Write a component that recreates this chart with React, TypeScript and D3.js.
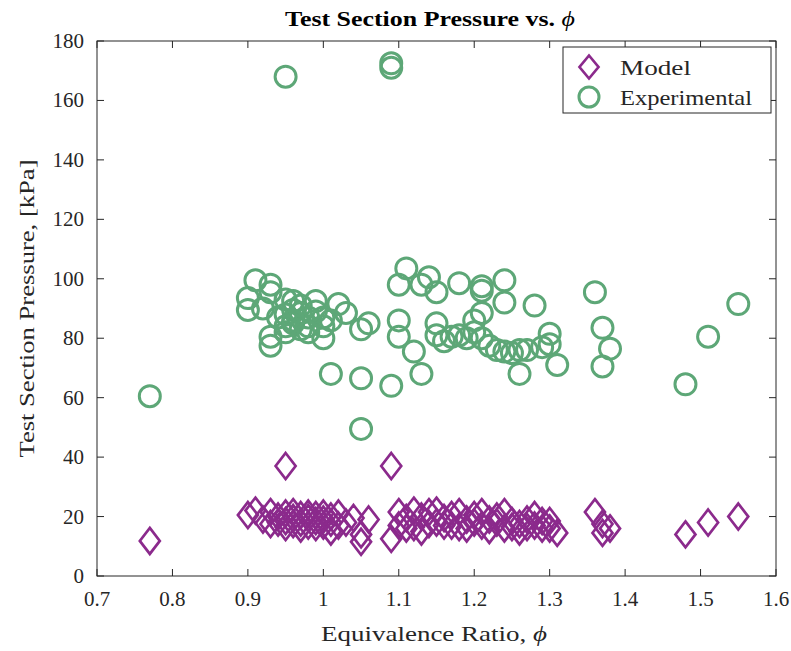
import React from "react";
import * as d3 from "d3";

const xTicks = [0.7, 0.8, 0.9, 1.0, 1.1, 1.2, 1.3, 1.4, 1.5, 1.6];
const yTicks = [0, 20, 40, 60, 80, 100, 120, 140, 160, 180];

const expPhi = [0.77,0.95,1.09,1.09,0.90,0.90,0.91,0.93,0.93,0.92,0.93,0.93,0.95,0.96,0.99,1.02,1.03,1.00,0.95,0.97,0.98,0.94,0.96,0.97,1.00,1.01,0.98,0.96,0.95,0.97,0.99,1.00,0.96,0.98,0.95,1.05,1.06,1.01,1.05,1.05,1.09,1.10,1.11,1.10,1.10,1.12,1.13,1.13,1.14,1.15,1.15,1.15,1.16,1.17,1.18,1.18,1.19,1.20,1.21,1.21,1.21,1.20,1.21,1.22,1.23,1.24,1.24,1.24,1.25,1.26,1.26,1.27,1.28,1.29,1.30,1.30,1.31,1.36,1.37,1.37,1.38,1.48,1.51,1.55];
const expP = [60.5,168,171,172.5,93.5,89.5,99.5,98,95.5,90,80.5,77.5,93,92.5,92.5,91.5,88.5,80,82,83,87,87,89.5,88.5,87,86,84,85,88,91,89,84,86,82,84,83,85,68,66.5,49.5,64,98,103.5,86,80.5,75.5,68,98,100.5,95.5,85,81,79,80.5,98.5,81,80,86,88.5,96,97.5,82,80,77.5,76,99.5,92,75.5,75,68,76,76,91,77,81.5,78,71,95.5,83.5,70.5,76.5,64.5,80.5,91.5];

const modelPhi = [0.77,0.95,1.09,0.90,0.91,0.92,0.93,0.93,0.94,0.95,0.95,0.96,0.96,0.97,0.97,0.98,0.98,0.99,0.99,1.00,1.00,1.01,1.01,1.02,1.03,1.04,1.05,1.05,1.06,1.09,1.10,1.10,1.11,1.12,1.12,1.13,1.13,1.14,1.15,1.15,1.16,1.17,1.18,1.18,1.19,1.20,1.21,1.21,1.22,1.22,1.23,1.24,1.24,1.25,1.26,1.26,1.27,1.28,1.28,1.29,1.30,1.30,1.31,1.36,1.37,1.37,1.38,1.48,1.51,1.55,0.94,0.95,0.96,0.97,0.98,0.99,1.00,1.01,1.02,1.16,1.17,1.19,1.20,1.23,1.25,1.27,1.29,1.14,1.11];
const modelP = [11.8,37,37,20.5,22,19,21.5,17.5,20,18.5,21,19.5,17.5,20.5,18,19.5,21,18.5,20.5,19,17,20,15,21,18,19.5,11.5,14,19,12.5,21.5,17,19.5,22,16.5,15,20,21.5,18,22,19.5,17,21.5,16.5,19,20.5,21.5,17,19,15.5,18,21.5,16,18.5,15,17.5,16.5,20.5,17,16,18.5,16,14.5,21.5,17.5,14.5,16,14,18,20,18,16.5,21.5,16,17,16.5,21,18,17,17,20.5,16,18,20,16.5,19,18.5,17.5,16];

const W = 791, H = 651;
const L = 97, R = 776, T = 41, B = 576;
const GREEN = "#5da777";
const PURPLE = "#8b2a8c";
const AX = "#262626";
const FONT = "'Liberation Serif', 'Times New Roman', serif";

const diamond = (cx: number, cy: number, hw = 10, hh = 13) =>
  `M${cx},${cy - hh}L${cx + hw},${cy}L${cx},${cy + hh}L${cx - hw},${cy}Z`;

export default function App() {
  const x = d3.scaleLinear().domain([0.7, 1.6]).range([L, R]);
  const y = d3.scaleLinear().domain([0, 180]).range([B, T]);
  const tl = 7;
  const fmt = (v: number) => (Math.abs(v - 1) < 1e-9 ? "1" : String(+v.toFixed(1)));
  return (
    <svg width={W} height={H} style={{ position: "absolute", left: 0, top: 0, background: "#fff" }} fontFamily={FONT}>
      <rect x={0} y={0} width={W} height={H} fill="#fff" />
      <g fill="none" stroke={GREEN} strokeWidth={3}>
        {expPhi.map((p, i) => (
          <circle key={i} cx={x(p)} cy={y(expP[i])} r={10.5} />
        ))}
      </g>
      <g fill="none" stroke={PURPLE} strokeWidth={2.7} strokeLinejoin="miter">
        {modelPhi.map((p, i) => (
          <path key={i} d={diamond(x(p), y(modelP[i]))} />
        ))}
      </g>
      <rect x={L} y={T} width={R - L} height={B - T} fill="none" stroke={AX} strokeWidth={1} />
      {xTicks.map((t, i) => (
        <g key={"x" + i}>
          <line x1={x(t)} x2={x(t)} y1={B} y2={B - tl} stroke={AX} />
          <line x1={x(t)} x2={x(t)} y1={T} y2={T + tl} stroke={AX} />
          <text x={x(t)} y={B + 30} textAnchor="middle" fontSize={21} fill={AX}>{fmt(t)}</text>
        </g>
      ))}
      {yTicks.map((t, i) => (
        <g key={"y" + i}>
          <line x1={L} x2={L + tl} y1={y(t)} y2={y(t)} stroke={AX} />
          <line x1={R} x2={R - tl} y1={y(t)} y2={y(t)} stroke={AX} />
          <text x={L - 13} y={y(t) + 7} textAnchor="end" fontSize={21} fill={AX}>{t}</text>
        </g>
      ))}
      <text x={430} y={26} textAnchor="middle" fontSize={21} fontWeight="bold" fill="#000" textLength={290} lengthAdjust="spacingAndGlyphs">
        Test Section Pressure vs. <tspan fontStyle="italic" fontWeight="normal">ϕ</tspan>
      </text>
      <text x={434} y={641} textAnchor="middle" fontSize={22} fill={AX} textLength={226} lengthAdjust="spacingAndGlyphs">
        Equivalence Ratio, <tspan fontStyle="italic">ϕ</tspan>
      </text>
      <text transform={`translate(34,${(T + B) / 2}) rotate(-90)`} textAnchor="middle" fontSize={22} fill={AX} textLength={298} lengthAdjust="spacingAndGlyphs">
        Test Section Pressure, [kPa]
      </text>
      <g>
        <rect x={563} y={47} width={208} height={66} fill="#fff" stroke={AX} strokeWidth={1} />
        <path d={diamond(589, 67, 9.5, 11.5)} fill="none" stroke={PURPLE} strokeWidth={2.7} />
        <text x={620} y={75} fontSize={22} fill={AX} textLength={71} lengthAdjust="spacingAndGlyphs">Model</text>
        <circle cx={589} cy={97} r={10} fill="none" stroke={GREEN} strokeWidth={3} />
        <text x={620} y={105} fontSize={22} fill={AX} textLength={132} lengthAdjust="spacingAndGlyphs">Experimental</text>
      </g>
    </svg>
  );
}
